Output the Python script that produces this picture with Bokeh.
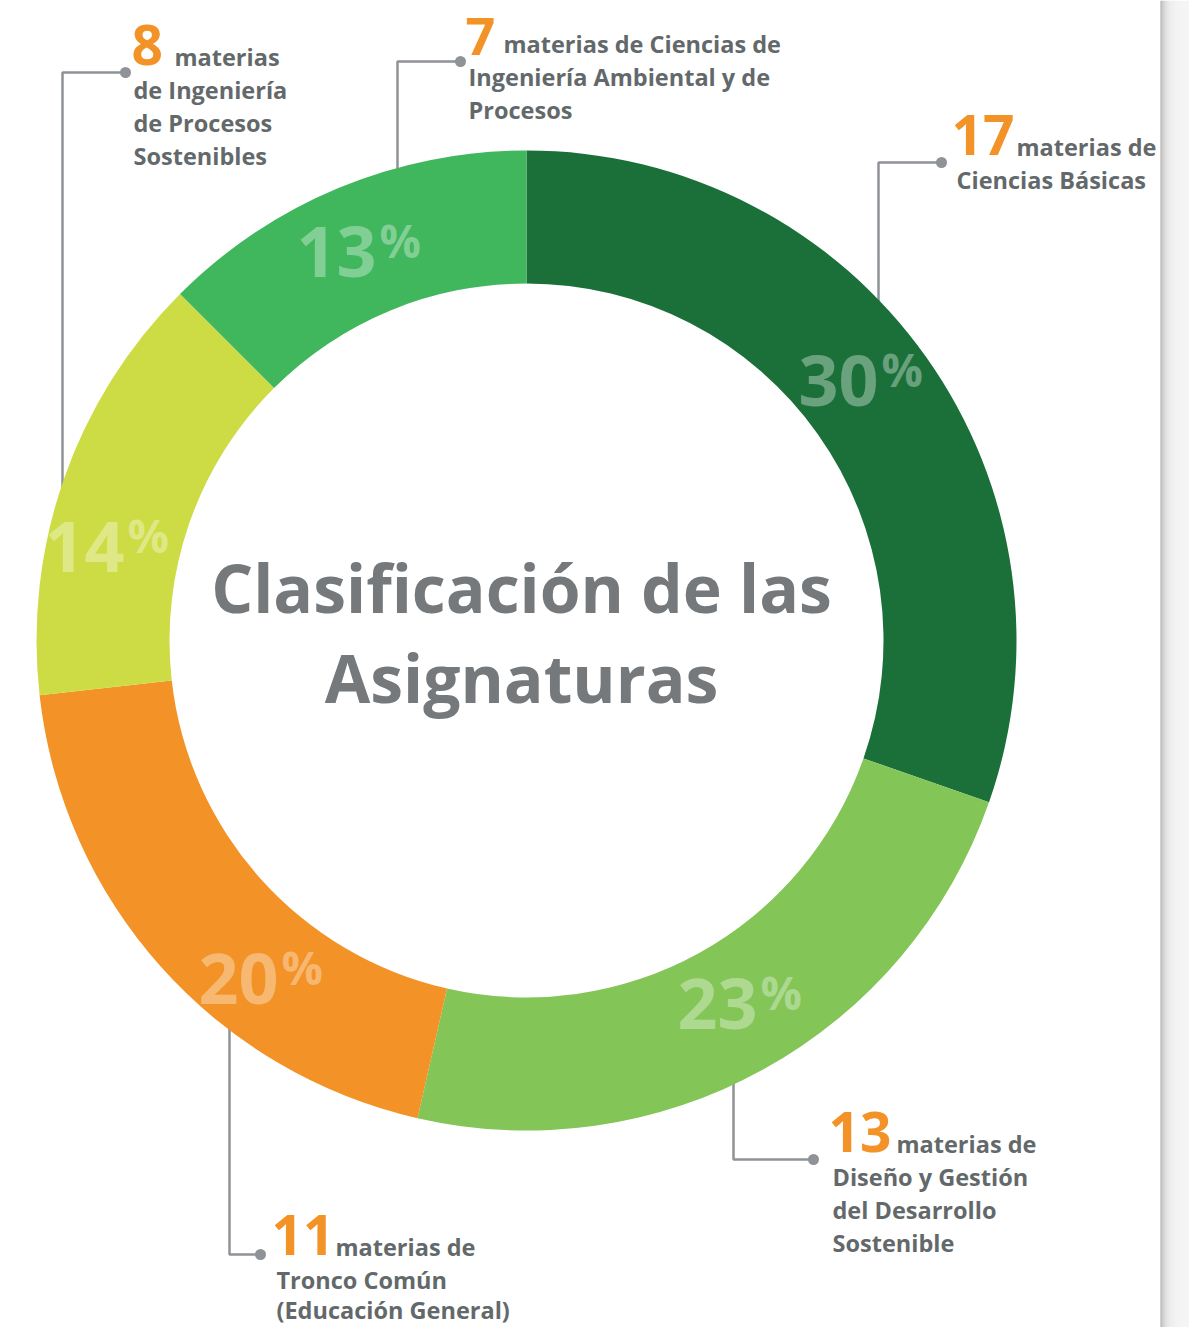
import math
from bokeh.plotting import figure
from bokeh.models import ColumnDataSource, Range1d
from bokeh.core.properties import value
from bokeh.embed import file_html
from bokeh.resources import INLINE

# ---------------- data ----------------
categories = [
    "Ciencias Básicas",
    "Diseño y Gestión del Desarrollo Sostenible",
    "Tronco Común (Educación General)",
    "Ingeniería de Procesos Sostenibles",
    "Ciencias de Ingeniería Ambiental y de Procesos",
]
counts = [17, 13, 11, 8, 7]
percents = [30, 23, 20, 14, 13]
colors = ["#1b703a", "#83c556", "#f39226", "#cddc45", "#40b65d"]
label_lines = [
    ["materias de", "Ciencias Básicas"],
    ["materias de", "Diseño y Gestión", "del Desarrollo", "Sostenible"],
    ["materias de", "Tronco Común", "(Educación General)"],
    ["materias", "de Ingeniería", "de Procesos", "Sostenibles"],
    ["materias de Ciencias de", "Ingeniería Ambiental y de", "Procesos"],
]
title_lines = ["Clasificación de las", "Asignaturas"]

# ---------------- layout (screen px) ----------------
W, H = 1189, 1327
CX, CY = 526, 640
R_OUT, R_IN = 490, 357
FONT = "Open Sans"
K = 0.38  # empirical baseline correction (fraction of font size)
pct_anchor = [(879, 407), (758, 1030), (279, 1005), (125, 573), (377, 278)]
ann = [
    dict(nx=951, ny=155, ns=55, nb=155, tx0=1016, tx=956, dot=(941, 162), ex=878),
    dict(nx=828, ny=1152, ns=55, nb=1152, tx0=896, tx=832, dot=(813, 1159), ex=733),
    dict(nx=271, ny=1255, ns=55, nb=1255, tx0=335, tx=276, dot=(260, 1254), ex=229),
    dict(nx=131, ny=65, ns=55, nb=65, tx0=174, tx=133, dot=(125, 72), ex=62),
    dict(nx=465, ny=52, ns=52, nb=56, tx0=503, tx=468, dot=(460, 61), ex=397),
]
LINE_H = 33.0
S_PCT, S_PSIGN, S_TITLE, S_BODY = 70, 46, 66, 23.5


def Y(sy):
    return H - sy


def YB(sy, size):
    return H - (sy - K * size)


p = figure(width=W, height=H, x_range=Range1d(0, W), y_range=Range1d(0, H),
           output_backend="svg", toolbar_location=None, min_border=0,
           x_axis_location=None, y_axis_location=None)
p.grid.visible = False
p.outline_line_color = None
p.background_fill_color = "white"
p.border_fill_color = "white"

# right grey strip (decoration)
sx = list(range(1160, W))
sg = []
for x in sx:
    g = int(round(0xf2 - (0xf2 - 0xa4) * math.exp(-(x - 1160) / 5.0)))
    sg.append("#%02x%02x%02x" % (g, g, min(g + 1, 255)))
p.quad(left=sx, right=[x + 1 for x in sx], bottom=0, top=H, color=sg, line_color=None)

# connectors (drawn before wedges so their ends hide under the ring)
xs, ys, dx_, dy_ = [], [], [], []
for a in ann:
    dxp, dyp = a["dot"]
    h = math.sqrt(R_OUT ** 2 - (a["ex"] - CX) ** 2) - 10
    end_y = CY - h if dyp < CY else CY + h
    xs.append([a["ex"], a["ex"], dxp])
    ys.append([Y(end_y), Y(dyp), Y(dyp)])
    dx_.append(dxp)
    dy_.append(Y(dyp))
p.multi_line(xs=xs, ys=ys, line_color="#8f9397", line_width=2.5)
p.scatter(x=dx_, y=dy_, size=11, marker="circle", fill_color="#8f9397", line_color=None)

# donut
total = sum(counts)
starts, ends = [], []
cum = 0
for c in counts:
    a0 = math.pi / 2 - 2 * math.pi * cum / total
    cum += c
    a1 = math.pi / 2 - 2 * math.pi * cum / total
    starts.append(a1)
    ends.append(a0)
src = ColumnDataSource(dict(cat=categories, start=starts, end=ends, color=colors))
p.annular_wedge(x=CX, y=Y(CY), inner_radius=R_IN, outer_radius=R_OUT,
                start_angle="start", end_angle="end", color="color",
                line_color=None, source=src)

# percentage labels
pd = ColumnDataSource(dict(x=[a[0] - 1 for a in pct_anchor],
                           y=[YB(a[1], S_PCT) for a in pct_anchor],
                           t=[str(v) for v in percents]))
p.text(x="x", y="y", text="t", source=pd, text_font=value(FONT), text_font_style="bold",
       text_font_size="%dpx" % S_PCT, text_color="white", text_alpha=0.35,
       text_align="right", text_baseline="alphabetic")
pp = ColumnDataSource(dict(x=[a[0] + 2 for a in pct_anchor],
                           y=[YB(a[1] - 21, S_PSIGN) for a in pct_anchor],
                           t=["%"] * len(percents)))
p.text(x="x", y="y", text="t", source=pp, text_font=value(FONT), text_font_style="bold",
       text_font_size="%dpx" % S_PSIGN, text_color="white", text_alpha=0.35,
       text_align="left", text_baseline="alphabetic")

# title
p.text(x=[521, 521], y=[YB(612, S_TITLE), YB(702, S_TITLE)], text=title_lines,
       text_font=value(FONT), text_font_style="bold", text_font_size="%dpx" % S_TITLE,
       text_color="#75797c", text_align="center", text_baseline="alphabetic")

# annotation numbers
for a, c in zip(ann, counts):
    p.text(x=[a["nx"]], y=[YB(a["nb"], a["ns"])], text=[str(c)],
           text_font=value(FONT), text_font_style="bold",
           text_font_size="%dpx" % a["ns"], text_color="#f39226", text_align="left",
           text_baseline="alphabetic")

# annotation text lines
lx, ly, lt = [], [], []
for a, lines in zip(ann, label_lines):
    for i, t in enumerate(lines):
        lx.append(a["tx0"] if i == 0 else a["tx"])
        ly.append(YB(min(a["ny"] + i * LINE_H, 1318), S_BODY))
        lt.append(t)
p.text(x=lx, y=ly, text=lt, text_font=value(FONT), text_font_style="bold",
       text_font_size="%spx" % S_BODY, text_color="#63696b", text_align="left",
       text_baseline="alphabetic")

open("out.html", "w").write(file_html(p, INLINE))
